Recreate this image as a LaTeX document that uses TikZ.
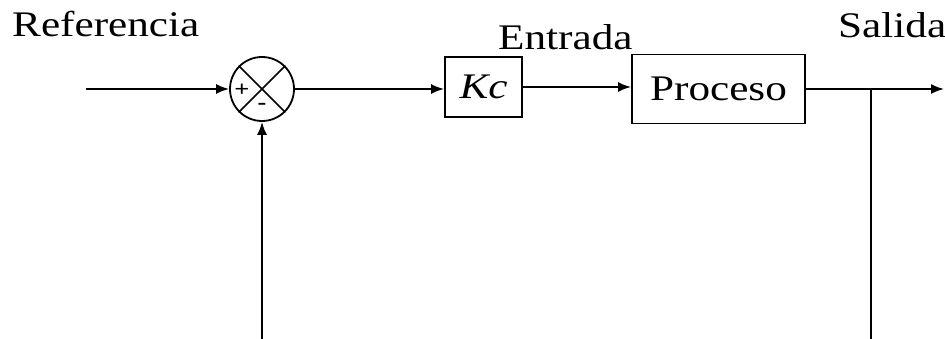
\documentclass[tikz,border=0pt]{standalone}
\usepackage{fontspec}
\setmainfont{Liberation Serif}[FakeStretch=1.2]
\usetikzlibrary{arrows.meta,positioning}

\begin{document}
\begin{tikzpicture}[
  x=1pt, y=-1pt,
  font=\fontsize{36}{40}\selectfont,
  >={Latex[length=13pt,width=10pt]},
  flow/.style={->, line width=1.8pt},
  block/.style={
    draw,
    line width=1.8pt,
    inner sep=0pt,
    align=center
  },
  sumnode/.style={
    circle,
    draw,
    line width=1.8pt,
    minimum size=64pt,
    inner sep=0pt
  },
  sign/.style={font=\fontsize{22}{22}\selectfont\bfseries, inner sep=0pt}
]
\useasboundingbox (0,0) rectangle (945,339);

% Forward path.
\node[sumnode] (sum) at (262,89) {};
\draw[line width=1.5pt] (sum.north west) -- (sum.south east);
\draw[line width=1.5pt] (sum.north east) -- (sum.south west);
\node[sign] (plus) at (242,90) {+};
\node[sign] (minus) at (262,106) {-};

\node[block, minimum width=77pt, minimum height=60pt] (kc) at (483.5,87)
  {\textit{Kc}};
\node[block, minimum width=173pt, minimum height=69pt] (proc) at (718.5,89)
  {Proceso};

\coordinate (in) at (86,89);
\coordinate (out) at (944,89);
\coordinate (branch) at (871,89);

\draw[flow] (in) -- (sum.west);
\draw[flow] (sum.east) -- (sum.east -| kc.west);
\draw[flow] (kc.east) -- (kc.east -| proc.west);
\draw[flow] (proc.east) -- (out);

% Feedback path (cut at the bottom edge).
\coordinate (fbend) at (871,339);
\coordinate (fbstart) at (262,339);
\draw[line width=1.8pt] (branch) -- (fbend);
\draw[flow] (fbstart) -- (sum.south);

% Signal labels.
\node[anchor=base west, inner sep=0pt] (ref) at (12,37) {Referencia};
\node[anchor=base west, inner sep=0pt] (entrada) at (498,50) {Entrada};
\node[anchor=base west, inner sep=0pt] (salida) at (838,38) {Salida};

\end{tikzpicture}
\end{document}
